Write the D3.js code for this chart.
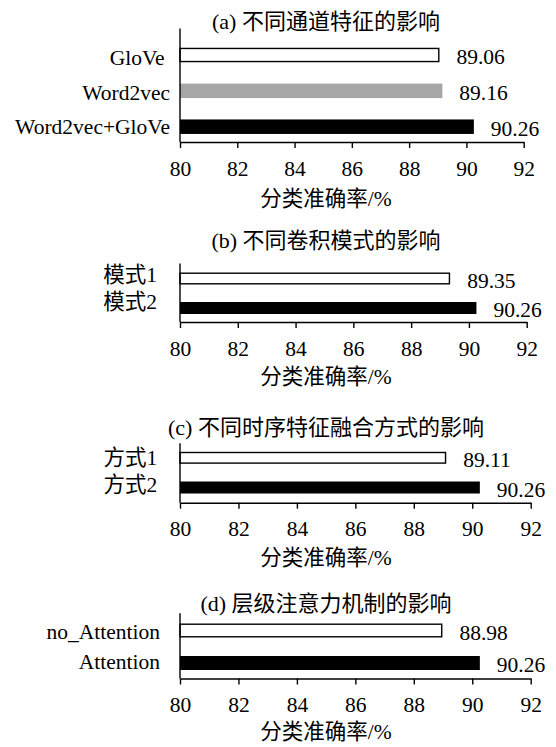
<!DOCTYPE html>
<html>
<head>
<meta charset="utf-8">
<script src="https://cdn.jsdelivr.net/npm/d3@7"></script>
<style>
  html, body { margin: 0; padding: 0; background: #fff; }
  svg { display: block; }
  svg text { font-family: "Liberation Serif", "Times New Roman", "Noto Sans CJK SC", serif; fill: #000; }
</style>
</head>
<body>
<svg id="chart" width="556" height="747"></svg>
<script>
// ---------- data ----------
const titles = [
  "(a) 不同通道特征的影响",
  "(b) 不同卷积模式的影响",
  "(c) 不同时序特征融合方式的影响",
  "(d) 层级注意力机制的影响"
];
const catsA = ["GloVe ", "Word2vec", "Word2vec+GloVe"];
const valsA = [89.06, 89.16, 90.26];
const catsB = ["模式1", "模式2"];
const valsB = [89.35, 90.26];
const catsC = ["方式1", "方式2"];
const valsC = [89.11, 90.26];
const catsD = ["no_Attention", "Attention"];
const valsD = [88.98, 90.26];
const xTicks = [80, 82, 84, 86, 88, 90, 92];
const xDomain = [80, 92];
const xLabel = "分类准确率/%";

// ---------- layout / style ----------
const SERIF = "'Liberation Serif', 'Times New Roman', 'Noto Sans CJK SC', serif";
const fillsA = ["#ffffff", "#a6a6a6", "#000000"];
const fills2 = ["#ffffff", "#000000"];
const panels = [
  { cats: catsA, vals: valsA, fills: fillsA, title: titles[0],
    xRange: [180, 523.7], yRange: [55, 126.7], labRange: [58.3, 126.7], labX: 170,
    barH: 14.5, axisY: 142, topY: 28.5, titleY: 21, xlabY: 199 },
  { cats: catsB, vals: valsB, fills: fills2, title: titles[1],
    xRange: [180, 526.7], yRange: [278.5, 308], labRange: [275, 301.7], labX: 157,
    barH: 12, axisY: 322, topY: 263.5, titleY: 240, xlabY: 377 },
  { cats: catsC, vals: valsC, fills: fills2, title: titles[2],
    xRange: [180, 530.7], yRange: [457.8, 487.5], labRange: [458.3, 485], labX: 157.3,
    barH: 12, axisY: 502.7, topY: 443.3, titleY: 427, xlabY: 557.5 },
  { cats: catsD, vals: valsD, fills: fills2, title: titles[3],
    xRange: [180, 530.7], yRange: [630.5, 663], labRange: [631.7, 661.7], labX: 160,
    barH: 14, axisY: 678.5, topY: 613.3, titleY: 603, xlabY: 731.5 }
];
const FS = 21.5;
const TITLE_FS = 22;
const CENTER_X = 326;
const SW = 1.4;

const svg = d3.select("#chart");
svg.append("rect").attr("width", 556).attr("height", 747).attr("fill", "#fff");

panels.forEach(p => {
  const g = svg.append("g").attr("font-family", SERIF);
  const x = d3.scaleLinear().domain(xDomain).range(p.xRange);
  const y = d3.scalePoint().domain(p.cats).range(p.yRange).padding(0);
  const yl = d3.scalePoint().domain(p.cats).range(p.labRange).padding(0);

  // title
  g.append("text")
    .attr("x", CENTER_X).attr("y", p.titleY)
    .attr("text-anchor", "middle").attr("dominant-baseline", "central")
    .style("font-size", TITLE_FS + "px")
    .text(p.title);

  // bars
  p.cats.forEach((c, i) => {
    const fill = p.fills[i];
    const stroked = fill === "#ffffff";
    const h = stroked ? p.barH - SW : p.barH;
    g.append("rect")
      .attr("x", x(xDomain[0]))
      .attr("y", y(c) - h / 2)
      .attr("width", x(p.vals[i]) - x(xDomain[0]) - (stroked ? SW / 2 : 0))
      .attr("height", h)
      .attr("fill", fill)
      .attr("stroke", stroked ? "#000" : "none")
      .attr("stroke-width", SW);
    // value label
    g.append("text")
      .attr("x", x(p.vals[i]) + 17)
      .attr("y", y(c) + 2)
      .attr("dominant-baseline", "central")
      .style("font-size", FS + "px")
      .text(p.vals[i].toFixed(2));
    // category label
    g.append("text")
      .attr("x", p.labX)
      .attr("y", yl(c))
      .attr("text-anchor", "end")
      .attr("dominant-baseline", "central")
      .attr("xml:space", "preserve")
      .style("white-space", "pre")
      .style("font-size", FS + "px")
      .text(c);
  });

  // y axis line
  g.append("line")
    .attr("x1", x(xDomain[0])).attr("x2", x(xDomain[0]))
    .attr("y1", p.topY).attr("y2", p.axisY)
    .attr("stroke", "#000").attr("stroke-width", SW);

  // x axis
  const ax = g.append("g")
    .attr("transform", `translate(0,${p.axisY})`)
    .call(d3.axisBottom(x).tickValues(xTicks).tickFormat(d3.format("d")).tickSize(6).tickSizeOuter(0));
  ax.attr("font-family", SERIF).attr("font-size", FS);
  ax.select(".domain").attr("stroke", "#000").attr("stroke-width", SW);
  ax.selectAll(".tick line").attr("stroke", "#000").attr("stroke-width", SW);
  ax.selectAll(".tick text")
    .attr("y", 26.5).attr("dy", null)
    .attr("dominant-baseline", "central")
    .attr("font-family", SERIF)
    .style("font-size", FS + "px")
    .attr("fill", "#000");

  // x axis label
  g.append("text")
    .attr("x", CENTER_X).attr("y", p.xlabY)
    .attr("text-anchor", "middle").attr("dominant-baseline", "central")
    .style("font-size", FS + "px")
    .text(xLabel);
});
</script>
</body>
</html>
